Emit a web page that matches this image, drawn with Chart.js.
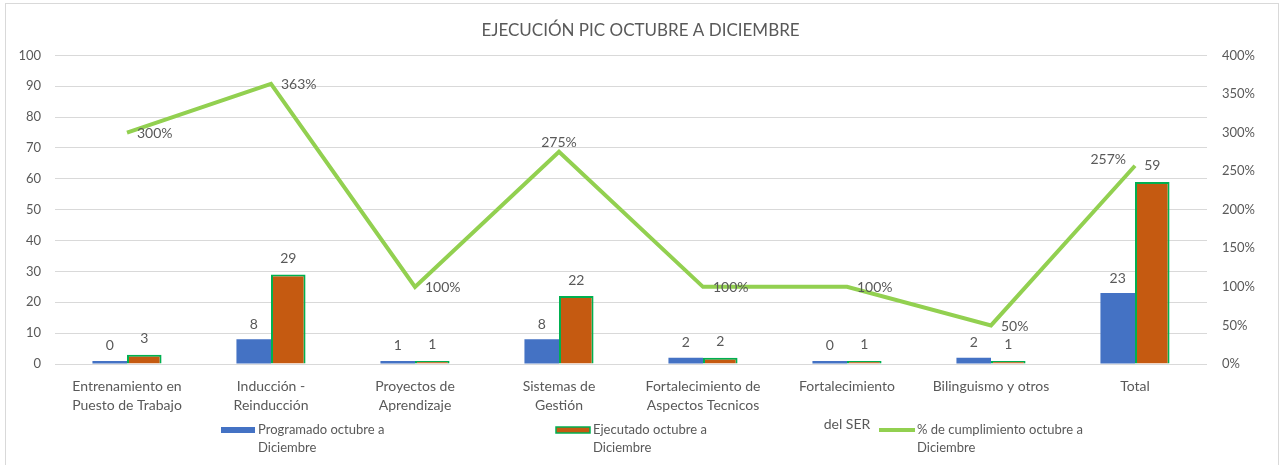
<!DOCTYPE html>
<html>
<head>
<meta charset="utf-8">
<script src="https://cdn.jsdelivr.net/npm/chart.js@4"></script>
<style>
  html, body { margin: 0; padding: 0; background: #fff; overflow: hidden; }
  #wrap { position: relative; width: 1281px; height: 465px; }
</style>
</head>
<body>
<div id="wrap"><canvas id="pic" width="1281" height="465"></canvas></div>
<script>
const categories = [
    ["Entrenamiento en", "Puesto de Trabajo"],
    ["Inducción -", "Reinducción"],
    ["Proyectos de", "Aprendizaje"],
    ["Sistemas de", "Gestión"],
    ["Fortalecimiento de", "Aspectos Tecnicos"],
    ["Fortalecimiento", "", "del SER"],
    ["Bilinguismo y otros"],
    ["Total"]
];
const programado = [1, 8, 1, 8, 2, 1, 2, 23];
const programadoLabels = ["0", "8", "1", "8", "2", "0", "2", "23"];
const ejecutado = [3, 29, 1, 22, 2, 1, 1, 59];
const cumplimiento = [300, 363, 100, 275, 100, 100, 50, 257];
const leftTicks = [0, 10, 20, 30, 40, 50, 60, 70, 80, 90, 100];
const rightTicks = [0, 50, 100, 150, 200, 250, 300, 350, 400];

const seriesNames = [
    ["Programado octubre a", "Diciembre"],
    ["Ejecutado octubre a", "Diciembre"],
    ["% de cumplimiento octubre a", "Diciembre"]
];

const textColor = "#595959";
const fontFamily = "Lato, 'Open Sans', sans-serif";
// where the % label sits next to each point
const pctLabelPos = ["right", "right", "right", "above", "right", "right", "right", "left"];

// frame, value labels and the two-line legend
const extrasPlugin = {
    id: "extras",
    beforeDraw(chart) {
        const ctx = chart.ctx;
        ctx.save();
        ctx.strokeStyle = "#d9d9d9";
        ctx.lineWidth = 1;
        ctx.strokeRect(5.5, 3.5, 1273, 470);
        ctx.restore();
    },
    afterDatasetsDraw(chart) {
        const ctx = chart.ctx;
        ctx.save();
        ctx.fillStyle = textColor;
        ctx.font = "14px " + fontFamily;
        ctx.textAlign = "center";
        ctx.textBaseline = "middle";

        const progMeta = chart.getDatasetMeta(1);
        const ejecMeta = chart.getDatasetMeta(2);
        progMeta.data.forEach((bar, i) => {
            ctx.fillText(programadoLabels[i], bar.x, bar.y - 15);
        });
        ejecMeta.data.forEach((bar, i) => {
            ctx.fillText(String(ejecutado[i]), bar.x, bar.y - 16);
        });

        const lineMeta = chart.getDatasetMeta(0);
        lineMeta.data.forEach((pt, i) => {
            const txt = cumplimiento[i] + "%";
            const pos = pctLabelPos[i];
            if (pos === "above") {
                ctx.textAlign = "center";
                ctx.fillText(txt, pt.x, pt.y - 9);
            } else if (pos === "left") {
                ctx.textAlign = "right";
                ctx.fillText(txt, pt.x - 9, pt.y - 6);
            } else {
                ctx.textAlign = "left";
                ctx.fillText(txt, pt.x + 10, pt.y + 1);
            }
        });

        // legend
        ctx.font = "13px " + fontFamily;
        ctx.textAlign = "left";
        const ly = 430;
        ctx.fillStyle = "#4472C4";
        ctx.fillRect(221, ly - 3, 34, 6);
        ctx.fillStyle = "#C55A11";
        ctx.fillRect(556, ly - 3, 34, 6);
        ctx.strokeStyle = "#00B050";
        ctx.lineWidth = 1.5;
        ctx.strokeRect(556, ly - 3, 34, 6);
        ctx.strokeStyle = "#92D050";
        ctx.lineWidth = 4;
        ctx.beginPath();
        ctx.moveTo(879, ly);
        ctx.lineTo(915, ly);
        ctx.stroke();

        ctx.fillStyle = textColor;
        const lx = [258, 593, 917];
        seriesNames.forEach((lines, k) => {
            lines.forEach((t, j) => ctx.fillText(t, lx[k], ly + j * 18));
        });
        ctx.restore();
    }
};

new Chart(document.getElementById("pic"), {
    data: {
        labels: categories,
        datasets: [
            {
                type: "line",
                label: seriesNames[2].join(" "),
                data: cumplimiento,
                yAxisID: "y1",
                borderColor: "#92D050",
                borderWidth: 4,
                pointRadius: 0,
                tension: 0,
                order: 0
            },
            {
                type: "bar",
                label: seriesNames[0].join(" "),
                data: programado,
                yAxisID: "y",
                backgroundColor: "#4472C4",
                barPercentage: 1,
                categoryPercentage: 0.48,
                order: 1
            },
            {
                type: "bar",
                label: seriesNames[1].join(" "),
                data: ejecutado,
                yAxisID: "y",
                backgroundColor: "#C55A11",
                borderColor: "#00B050",
                borderWidth: 2,
                barPercentage: 1,
                categoryPercentage: 0.48,
                order: 1
            }
        ]
    },
    options: {
        responsive: false,
        animation: false,
        layout: { padding: { top: 4, left: 0, right: 0, bottom: 6 } },
        plugins: {
            legend: { display: false },
            tooltip: { enabled: false },
            title: {
                display: true,
                text: "EJECUCIÓN PIC OCTUBRE A DICIEMBRE",
                color: textColor,
                font: { family: fontFamily, size: 17, weight: "normal" },
                padding: { top: 16, bottom: 15 }
            }
        },
        scales: {
            x: {
                grid: { display: false, drawTicks: false },
                border: { display: false },
                ticks: {
                    color: textColor,
                    font: { family: fontFamily, size: 14, lineHeight: 1.36 },
                    padding: 13,
                    maxRotation: 0,
                    autoSkip: false
                },
                afterFit: s => { s.height = 95; }
            },
            y: {
                position: "left",
                min: 0,
                max: 100,
                afterBuildTicks: s => { s.ticks = leftTicks.map(v => ({ value: v })); },
                grid: { color: "#d9d9d9", drawTicks: false },
                border: { display: false },
                ticks: {
                    color: textColor,
                    font: { family: fontFamily, size: 13 },
                    padding: 14
                },
                afterFit: s => { s.width = 55; }
            },
            y1: {
                position: "right",
                min: 0,
                max: 400,
                afterBuildTicks: s => { s.ticks = rightTicks.map(v => ({ value: v })); },
                grid: { display: false, drawTicks: false },
                border: { display: false },
                ticks: {
                    color: textColor,
                    font: { family: fontFamily, size: 13 },
                    padding: 15,
                    callback: v => v + "%"
                },
                afterFit: s => { s.width = 74; }
            }
        }
    },
    plugins: [extrasPlugin]
});
</script>
</body>
</html>
